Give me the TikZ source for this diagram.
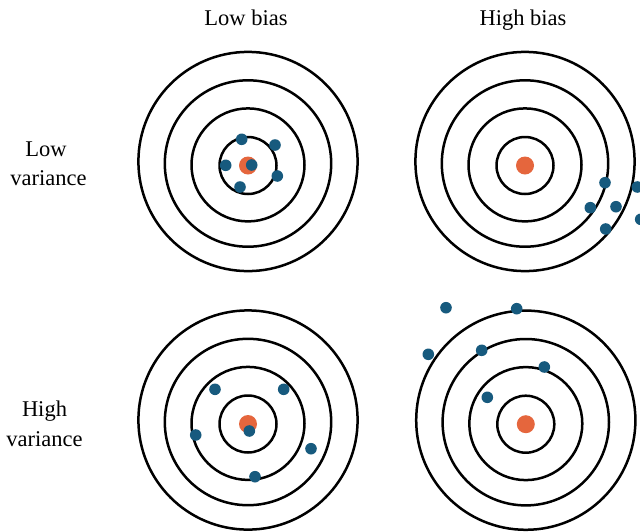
\documentclass[tikz,border=0pt]{standalone}
\usepackage{fontspec}
\setmainfont{Liberation Serif}
\definecolor{bullred}{HTML}{E5663D}
\definecolor{shotblue}{HTML}{175A7E}
\tikzset{
  ring/.style={draw=black, line width=2.5pt},
  bull/.style={fill=bullred},
  shot/.style={fill=shotblue},
  lbl/.style={font=\fontsize{22.5}{29}\selectfont, inner sep=0pt, anchor=base}
}
\newcommand{\drawtarget}[2]{%
  \draw[ring] (#1,#2) circle (28.5);
  \draw[ring] (#1,#2-0.6) circle (56.5);
  \draw[ring] (#1,#2-2) circle (83.2);
  \draw[ring] (#1,#2-4) circle (109.6);
  \fill[bull] (#1,#2) circle (9);
}
\newcommand{\shotat}[2]{\fill[shot] (#1,#2) circle (5.8);}
\begin{document}
\begin{tikzpicture}[x=1pt,y=-1pt]
\useasboundingbox (0,0) rectangle (640,531);
\clip (0,0) rectangle (640,531);
% column headers
\node[lbl] (lowbias) at (246,25) {Low bias};
\node[lbl] (highbias) at (523,25) {High bias};
% row headers
\node[lbl] (lowvarA) at (46,156) {Low};
\node[lbl] (lowvarB) at (48.5,185) {variance};
\node[lbl] (highvarA) at (44.5,416.5) {High};
\node[lbl] (highvarB) at (44.5,446) {variance};
% targets
\drawtarget{248}{165.5}
\drawtarget{525}{165.5}
\drawtarget{248}{424}
\drawtarget{525.8}{424.2}
% low bias, low variance
\shotat{241.7}{139.3}
\shotat{275}{145}
\shotat{225.7}{165.3}
\shotat{251.7}{165}
\shotat{277.3}{176}
\shotat{240}{187}
% high bias, low variance
\shotat{605}{182.7}
\shotat{637.3}{187}
\shotat{590.3}{207.7}
\shotat{616}{206.7}
\shotat{640.7}{219.3}
\shotat{605.7}{229}
% low bias, high variance
\shotat{215}{389.3}
\shotat{283.7}{389.3}
\shotat{195.7}{435}
\shotat{249.3}{431}
\shotat{311}{448.7}
\shotat{255}{476.7}
% high bias, high variance
\shotat{446}{307.7}
\shotat{516.7}{308.7}
\shotat{428.3}{354.3}
\shotat{481.7}{350.3}
\shotat{544.3}{367}
\shotat{487.3}{397.3}
\end{tikzpicture}
\end{document}
